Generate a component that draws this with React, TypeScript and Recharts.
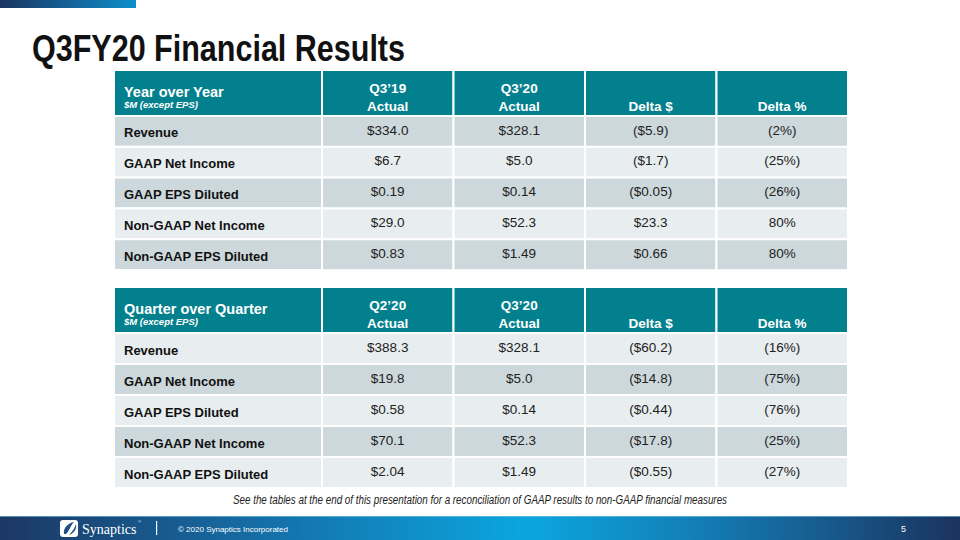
import React from "react";
import { BarChart, Bar, XAxis, YAxis, Cell, LabelList } from "recharts";

// ---------- data ----------
const rowLabels = ["Revenue", "GAAP Net Income", "GAAP EPS Diluted", "Non-GAAP Net Income", "Non-GAAP EPS Diluted"];

const yoyHeaders = [["Q3\u201919", "Actual"], ["Q3\u201920", "Actual"], ["", "Delta $"], ["", "Delta %"]];
const yoyQ319 = ["$334.0", "$6.7", "$0.19", "$29.0", "$0.83"];
const yoyQ320 = ["$328.1", "$5.0", "$0.14", "$52.3", "$1.49"];
const yoyDeltaD = ["($5.9)", "($1.7)", "($0.05)", "$23.3", "$0.66"];
const yoyDeltaP = ["(2%)", "(25%)", "(26%)", "80%", "80%"];

const qoqHeaders = [["Q2\u201920", "Actual"], ["Q3\u201920", "Actual"], ["", "Delta $"], ["", "Delta %"]];
const qoqQ220 = ["$388.3", "$19.8", "$0.58", "$70.1", "$2.04"];
const qoqQ320 = ["$328.1", "$5.0", "$0.14", "$52.3", "$1.49"];
const qoqDeltaD = ["($60.2)", "($14.8)", "($0.44)", "($17.8)", "($0.55)"];
const qoqDeltaP = ["(16%)", "(75%)", "(76%)", "(25%)", "(27%)"];

const colTicks = [0.5, 1.5, 2.5, 3.5];

// ---------- styles ----------
const FONT = "'Liberation Sans', Arial, sans-serif";
const NARROW = "'Liberation Sans Narrow', 'Liberation Sans', Arial, sans-serif";
const TEAL = "#03808d";
const DARK = "#cdd8dc";
const LIGHT = "#e8edef";
const TABLE_W = 734;
const LABEL_W = 208;
const COL_W = (TABLE_W - LABEL_W) / 4;
const HEADER_H = 46;

function buildRows(cols: string[][]) {
  return rowLabels.map((label, i) => ({
    label,
    v0: cols[0][i],
    v1: cols[1][i],
    v2: cols[2][i],
    v3: cols[3][i],
    c0: 1,
    c1: 1,
    c2: 1,
    c3: 1,
  }));
}

function ValueLabel(props: any) {
  const { x, y, width, height, value } = props;
  return (
    <text
      x={x + width / 2}
      y={y + height / 2 + 3}
      textAnchor="middle"
      fontFamily={FONT}
      fontSize={13.5}
      fill="#222"
    >
      {value}
    </text>
  );
}

type TableProps = {
  title: string;
  headers: string[][];
  cols: string[][];
  startDark: boolean;
  height: number;
};

function FinTable({ title, headers, cols, startDark, height }: TableProps) {
  const data = buildRows(cols);
  const rowH = (height - HEADER_H) / data.length;
  const rowFill = (i: number) => ((i % 2 === 0) === startDark ? DARK : LIGHT);

  const HeaderTick = (p: any) => {
    const { x, index } = p;
    const h = headers[index] || ["", ""];
    return (
      <g>
        {index === 0 && (
          <g>
            <rect x={x - COL_W / 2 - LABEL_W} y={0} width={LABEL_W} height={HEADER_H} fill={TEAL} stroke="#fff" strokeWidth={2} />
            <text x={x - COL_W / 2 - LABEL_W + 10} y={27} fontFamily={FONT} fontWeight="bold" fontSize={14.5} fill="#fff">
              {title}
            </text>
            <text x={x - COL_W / 2 - LABEL_W + 10} y={38} fontFamily={FONT} fontWeight="bold" fontStyle="italic" fontSize={9.5} fill="#fff">
              $M (except EPS)
            </text>
          </g>
        )}
        <rect x={x - COL_W / 2} y={0} width={COL_W} height={HEADER_H} fill={TEAL} stroke="#fff" strokeWidth={2} />
        {h[0] && (
          <text x={x} y={23} textAnchor="middle" fontFamily={FONT} fontWeight="bold" fontSize={13.5} fill="#fff">
            {h[0]}
          </text>
        )}
        <text x={x} y={41} textAnchor="middle" fontFamily={FONT} fontWeight="bold" fontSize={13.5} fill="#fff">
          {h[1]}
        </text>
      </g>
    );
  };

  const RowTick = (p: any) => {
    const { y, index, payload } = p;
    return (
      <g>
        <rect x={0} y={y - rowH / 2} width={LABEL_W} height={rowH} fill={rowFill(index)} stroke="#fff" strokeWidth={2} />
        <text x={10} y={y + 6} fontFamily={FONT} fontWeight="bold" fontSize={13} fill="#111">
          {payload.value}
        </text>
      </g>
    );
  };

  const keys = ["c0", "c1", "c2", "c3"];
  const vals = ["v0", "v1", "v2", "v3"];

  return (
    <BarChart
      width={TABLE_W}
      height={height}
      data={data}
      layout="vertical"
      margin={{ top: 0, right: 0, bottom: 0, left: 0 }}
      barCategoryGap={0}
    >
      <XAxis
        type="number"
        orientation="top"
        domain={[0, 4]}
        ticks={colTicks}
        interval={0}
        height={HEADER_H}
        axisLine={false}
        tickLine={false}
        tick={HeaderTick}
      />
      <YAxis
        type="category"
        dataKey="label"
        width={LABEL_W}
        interval={0}
        axisLine={false}
        tickLine={false}
        tick={RowTick}
      />
      {keys.map((k, ci) => (
        <Bar key={k} dataKey={k} stackId="t" isAnimationActive={false} stroke="#fff" strokeWidth={2}>
          {data.map((_, ri) => (
            <Cell key={ri} fill={rowFill(ri)} />
          ))}
          <LabelList dataKey={vals[ci]} content={ValueLabel} />
        </Bar>
      ))}
    </BarChart>
  );
}

function Background() {
  return (
    <svg width={960} height={540} style={{ position: "absolute", left: 0, top: 0 }}>
      <defs>
        <linearGradient id="topbar" x1="0" x2="1" y1="0" y2="0">
          <stop offset="0" stopColor="#1b3461" />
          <stop offset="1" stopColor="#0d8fcb" />
        </linearGradient>
        <linearGradient id="footer" x1="0" x2="1" y1="0" y2="0">
          <stop offset="0" stopColor="#1c3764" />
          <stop offset="0.3" stopColor="#1474ad" />
          <stop offset="0.55" stopColor="#0ba6df" />
          <stop offset="0.75" stopColor="#1478b0" />
          <stop offset="1" stopColor="#1b335f" />
        </linearGradient>
      </defs>
      <rect x={0} y={0} width={136} height={8} fill="url(#topbar)" />
      <text
        x={32}
        y={61}
        fontFamily={NARROW}
        fontWeight="bold"
        fontSize={36}
        fill="#111"
        textLength={373}
        lengthAdjust="spacingAndGlyphs"
      >
        Q3FY20 Financial Results
      </text>
      <text
        x={233}
        y={504}
        fontFamily={NARROW}
        fontStyle="italic"
        fontSize={12.5}
        fill="#222"
        textLength={494}
        lengthAdjust="spacingAndGlyphs"
      >
        See the tables at the end of this presentation for a reconciliation of GAAP results to non-GAAP financial measures
      </text>
      <rect x={0} y={516} width={960} height={24} fill="url(#footer)" />
      <rect x={0} y={516} width={960} height={1} fill="#7fc8e8" opacity={0.6} />
      <rect x={60} y={520} width={18} height={17} rx={3} fill="#fff" />
      <path d="M64 534 C 63 528, 68 523, 74 522 C 70 526, 70 530, 66 534 Z" fill="#1c4f82" />
      <path d="M69 535 C 73 531, 75 527, 76 524 C 77 529, 74 533, 69 535 Z" fill="#1c4f82" />
      <text x={82} y={534} fontFamily="'Liberation Serif', serif" fontSize={14} fill="#fff">
        Synaptics
      </text>
      <text x={138} y={523} fontFamily="'Liberation Serif', serif" fontSize={4} fill="#fff">
        ®
      </text>
      <rect x={156} y={521} width={1.2} height={14} fill="#fff" />
      <text x={178} y={532} fontFamily={FONT} fontSize={8} fill="#fff">
        © 2020 Synaptics Incorporated
      </text>
      <text x={901} y={532} fontFamily={FONT} fontSize={9} fill="#fff">
        5
      </text>
    </svg>
  );
}

export default function App() {
  return (
    <div style={{ position: "absolute", left: 0, top: 0, width: 960, height: 540, background: "#fff", overflow: "hidden" }}>
      <Background />
      <div style={{ position: "absolute", left: 114, top: 70 }}>
        <FinTable
          title="Year over Year"
          headers={yoyHeaders}
          cols={[yoyQ319, yoyQ320, yoyDeltaD, yoyDeltaP]}
          startDark={true}
          height={200}
        />
      </div>
      <div style={{ position: "absolute", left: 114, top: 287 }}>
        <FinTable
          title="Quarter over Quarter"
          headers={qoqHeaders}
          cols={[qoqQ220, qoqQ320, qoqDeltaD, qoqDeltaP]}
          startDark={false}
          height={201}
        />
      </div>
    </div>
  );
}
